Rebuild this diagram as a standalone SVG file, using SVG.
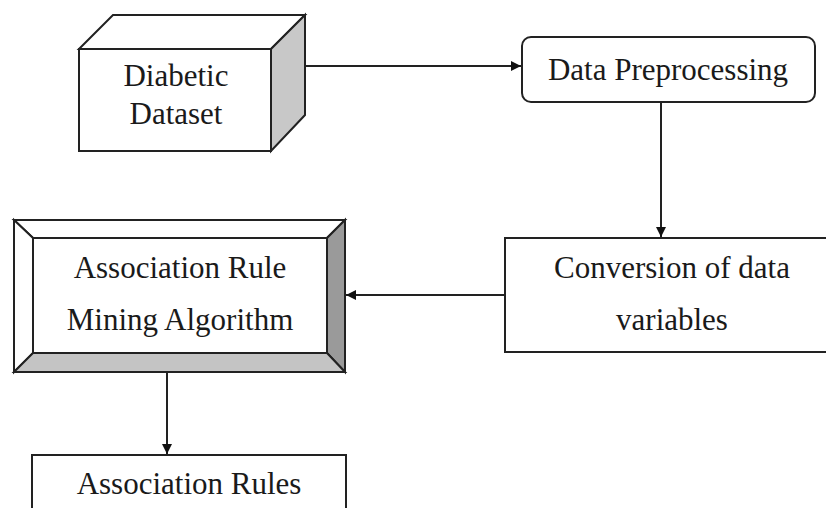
<svg xmlns="http://www.w3.org/2000/svg" width="826" height="508" viewBox="0 0 826 508">
  <defs>
    <marker id="arrow" viewBox="0 0 10 10" refX="10" refY="5" markerWidth="10" markerHeight="10" markerUnits="userSpaceOnUse" orient="auto">
      <path d="M0,0 L10,5 L0,10 Z" fill="#111"/>
    </marker>
  </defs>
  <style>
    .edge { fill: #fff; stroke: #222; stroke-width: 2; stroke-linejoin: miter; }
    .label { font-family: "Liberation Serif", "Times New Roman", serif; font-size: 31px; fill: #1a1a1a; text-anchor: middle; }
    .conn { fill: none; stroke: #222; stroke-width: 2; marker-end: url(#arrow); }
  </style>
  <rect width="826" height="508" fill="#fff"/>

  <!-- cube: Diabetic Dataset -->
  <g id="diabetic-dataset">
    <polygon class="edge" points="79,49 113,15 305,15 271,49"/>
    <polygon class="edge" points="271,49 305,15 305,115 271,151" style="fill:#c8c8c8"/>
    <rect class="edge" x="79" y="49" width="192" height="102"/>
    <text class="label" x="176" y="86">Diabetic</text>
    <text class="label" x="176" y="124">Dataset</text>
  </g>

  <!-- rounded box: Data Preprocessing -->
  <g id="data-preprocessing">
    <rect class="edge" x="522" y="37" width="293" height="65" rx="9" ry="9"/>
    <text class="label" x="668" y="80">Data Preprocessing</text>
  </g>

  <!-- plain box running off the right edge -->
  <g id="conversion">
    <rect class="edge" x="505" y="238" width="340" height="114"/>
    <text class="label" x="672" y="278">Conversion of data</text>
    <text class="label" x="672" y="330">variables</text>
  </g>

  <!-- bevelled frame: Association Rule Mining Algorithm -->
  <g id="mining-algorithm">
    <rect class="edge" x="14" y="220" width="331" height="152"/>
    <polygon class="edge" points="14,220 345,220 327,238 33,238"/>
    <polygon class="edge" points="14,220 33,238 33,353 14,372"/>
    <polygon class="edge" points="345,220 345,372 327,353 327,238" style="fill:#9a9a9a"/>
    <polygon class="edge" points="14,372 33,353 327,353 345,372" style="fill:#c4c4c4"/>
    <rect class="edge" x="33" y="238" width="294" height="115"/>
    <text class="label" x="180" y="278">Association Rule</text>
    <text class="label" x="180" y="330">Mining Algorithm</text>
  </g>

  <!-- output box, cut by the bottom edge -->
  <g id="association-rules">
    <rect class="edge" x="32" y="455" width="314" height="70"/>
    <text class="label" x="189" y="494">Association Rules</text>
  </g>

  <g id="connectors">
    <line class="conn" x1="305" y1="66" x2="521" y2="66"/>
    <line class="conn" x1="661" y1="102" x2="661" y2="237"/>
    <line class="conn" x1="505" y1="295" x2="346" y2="295"/>
    <line class="conn" x1="167" y1="372" x2="167" y2="454"/>
  </g>
</svg>
